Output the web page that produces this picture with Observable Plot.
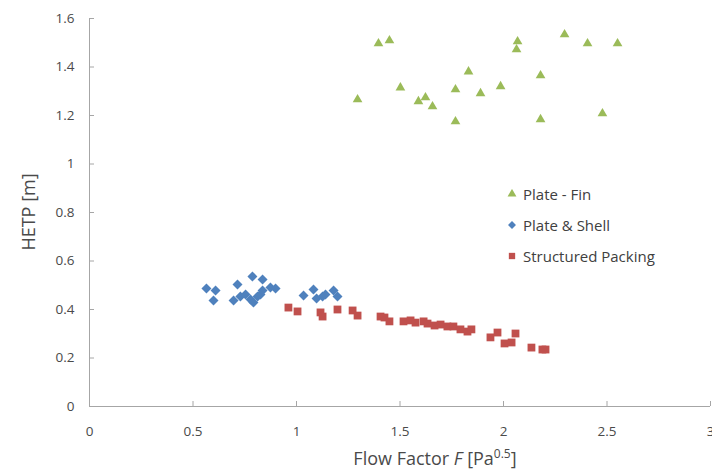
<!DOCTYPE html>
<html><head><meta charset="utf-8">
<script src="https://cdn.jsdelivr.net/npm/d3@7"></script>
<script src="https://cdn.jsdelivr.net/npm/@observablehq/plot@0.6"></script>
<style>
body{margin:0;background:#fff;font-family:"Open Sans",sans-serif;}
#wrap{position:relative;width:712px;height:471px;overflow:hidden;}
#legend{position:absolute;left:507px;top:178px;font-size:15px;color:#404040;}
.row{height:31px;display:flex;align-items:center;}
.row svg{margin-right:6px;}
</style></head><body><div id="wrap"><div id="chart"></div><div id="legend"></div></div>
<script>
const seriesNames = ["Plate - Fin", "Plate & Shell", "Structured Packing"];
const seriesColors = ["#9BBB59", "#4F81BD", "#C0504D"];
const seriesSymbols = ["triangle", "diamond2", "square"];

const plateFinX = [1.295, 1.396, 1.449, 1.502, 1.589, 1.623, 1.657, 1.768, 1.768, 1.831, 1.889, 1.986, 2.063, 2.068, 2.179, 2.179, 2.295, 2.406, 2.478, 2.551];
const plateFinY = [1.266, 1.497, 1.509, 1.315, 1.258, 1.274, 1.237, 1.307, 1.175, 1.381, 1.291, 1.320, 1.472, 1.505, 1.365, 1.184, 1.534, 1.497, 1.208, 1.497];

const plateShellX = [0.565, 0.609, 0.599, 0.696, 0.715, 0.729, 0.754, 0.778, 0.792, 0.787, 0.812, 0.826, 0.836, 0.836, 0.874, 0.899, 1.034, 1.082, 1.097, 1.126, 1.140, 1.179, 1.198];
const plateShellY = [0.487, 0.478, 0.437, 0.437, 0.503, 0.454, 0.462, 0.441, 0.429, 0.536, 0.454, 0.462, 0.524, 0.478, 0.491, 0.487, 0.458, 0.482, 0.445, 0.454, 0.462, 0.478, 0.454];

const packingX = [0.961, 1.005, 1.116, 1.126, 1.198, 1.271, 1.295, 1.406, 1.425, 1.449, 1.517, 1.551, 1.575, 1.614, 1.633, 1.667, 1.696, 1.729, 1.758, 1.792, 1.826, 1.845, 1.937, 1.971, 2.005, 2.039, 2.058, 2.135, 2.188, 2.203];
const packingY = [0.408, 0.392, 0.388, 0.371, 0.400, 0.396, 0.375, 0.371, 0.367, 0.351, 0.351, 0.355, 0.346, 0.351, 0.342, 0.334, 0.338, 0.330, 0.330, 0.318, 0.309, 0.318, 0.285, 0.305, 0.260, 0.264, 0.301, 0.243, 0.235, 0.235];

const xTicks = [0, 0.5, 1, 1.5, 2, 2.5, 3];
const yTicks = [0, 0.2, 0.4, 0.6, 0.8, 1, 1.2, 1.4, 1.6];

const W = 712, H = 471, mL = 89, mR = 2, mT = 18, mB = 65;
const plotW = W - mL - mR, plotH = H - mT - mB;
const axisColor = "#a6a6a6", textColor = "#4a4a4a";

const pack = (xs, ys) => xs.map((x, i) => ({x, y: ys[i]}));
const sets = [pack(plateFinX, plateFinY), pack(plateShellX, plateShellY), pack(packingX, packingY)];
const radii = [3.6, 4.5, 4.4];

const chart = Plot.plot({
  width: W, height: H,
  marginLeft: mL, marginRight: mR, marginTop: mT, marginBottom: mB,
  style: {fontFamily: '"Open Sans", sans-serif', fontSize: "13.5px", color: textColor, background: "white", overflow: "visible"},
  x: {domain: [0, 3]},
  y: {domain: [0, 1.6]},
  marks: [
    Plot.axisY({ticks: yTicks, tickSize: 0, tickPadding: 15, label: null, tickFormat: d => String(d)}),
    Plot.axisX({ticks: xTicks, tickSize: 0, tickPadding: 20, label: null, tickFormat: d => String(d)}),
    Plot.tickX(xTicks, {x: d => d, insetTop: plotH - 5, stroke: axisColor}),
    Plot.tickY(yTicks, {y: d => d, insetRight: plotW - 5, stroke: axisColor}),
    Plot.ruleX([0], {stroke: axisColor}),
    Plot.ruleY([0], {stroke: axisColor}),
    ...[1, 2, 0].map(i => Plot.dot(sets[i], {x: "x", y: "y", symbol: () => seriesSymbols[i], r: radii[i], fill: seriesColors[i], stroke: "none"}))
  ]
});
document.getElementById("chart").appendChild(chart);

const svg = d3.select(chart);
svg.append("text")
  .attr("transform", `translate(28,${mT + plotH / 2}) rotate(-90)`)
  .attr("text-anchor", "middle").attr("dominant-baseline", "central")
  .attr("fill", textColor).attr("font-size", 18).text("HETP [m]");
const xt = svg.append("text")
  .attr("x", 435).attr("y", 465)
  .attr("text-anchor", "middle")
  .attr("fill", textColor).attr("font-size", 18);
xt.append("tspan").text("Flow Factor ");
xt.append("tspan").attr("font-style", "italic").text("F");
xt.append("tspan").text(" [Pa");
xt.append("tspan").attr("font-size", 12).attr("dy", -7).text("0.5");
xt.append("tspan").attr("dy", 7).text("]");

const legend = d3.select("#legend");
const sym = {triangle: d3.symbolTriangle, diamond2: d3.symbolDiamond2, square: d3.symbolSquare};
seriesNames.forEach((name, i) => {
  const row = legend.append("div").attr("class", "row");
  const s = row.append("svg").attr("width", 10).attr("height", 10);
  s.append("path").attr("transform", "translate(5,5)")
    .attr("d", d3.symbol(sym[seriesSymbols[i]], i === 0 ? 34 : 40)())
    .attr("fill", seriesColors[i]);
  row.append("span").text(name);
});
</script>
</body></html>
